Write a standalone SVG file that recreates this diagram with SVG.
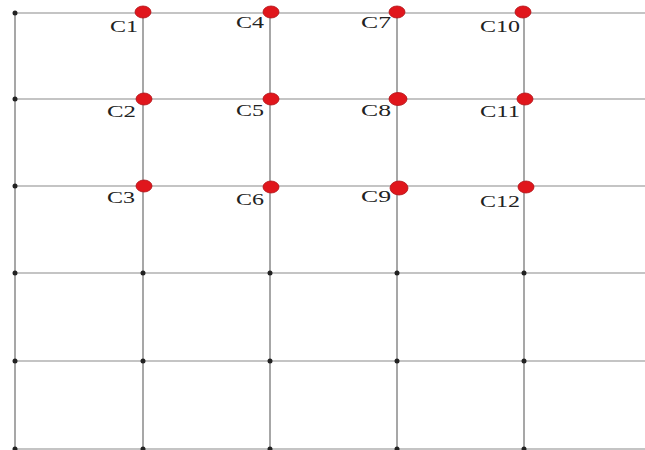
<svg xmlns="http://www.w3.org/2000/svg" width="645" height="450" viewBox="0 0 645 450">
<style>
.h{stroke:#c4c4c4;stroke-width:2}
.v{stroke:#8a8a8a;stroke-width:1.5}
.b{fill:#222}
.r{fill:#e0161c;stroke:#b01015;stroke-width:0.8}
.t{font-family:"Liberation Serif",serif;font-size:17px;fill:#222}
</style>
<rect width="645" height="450" fill="#fff"/>
<g id="grid">
<line class="h" x1="15" y1="13" x2="645" y2="13"/>
<line class="h" x1="15" y1="99" x2="645" y2="99"/>
<line class="h" x1="15" y1="186" x2="645" y2="186"/>
<line class="h" x1="15" y1="273" x2="645" y2="273"/>
<line class="h" x1="15" y1="361" x2="645" y2="361"/>
<line class="h" x1="15" y1="449" x2="645" y2="449"/>
<line class="v" x1="15" y1="13" x2="15" y2="450"/>
<line class="v" x1="143" y1="13" x2="143" y2="450"/>
<line class="v" x1="270" y1="13" x2="270" y2="450"/>
<line class="v" x1="397" y1="13" x2="397" y2="450"/>
<line class="v" x1="524" y1="13" x2="524" y2="450"/>
</g>
<g id="junctions">
<circle class="b" cx="15" cy="13" r="2.5"/>
<circle class="b" cx="15" cy="99" r="2.5"/>
<circle class="b" cx="15" cy="186" r="2.5"/>
<circle class="b" cx="15" cy="273" r="2.5"/>
<circle class="b" cx="15" cy="361" r="2.5"/>
<circle class="b" cx="15" cy="449" r="2.5"/>
<circle class="b" cx="143" cy="273" r="2.5"/>
<circle class="b" cx="143" cy="361" r="2.5"/>
<circle class="b" cx="143" cy="449" r="2.5"/>
<circle class="b" cx="270" cy="273" r="2.5"/>
<circle class="b" cx="270" cy="361" r="2.5"/>
<circle class="b" cx="270" cy="449" r="2.5"/>
<circle class="b" cx="397" cy="273" r="2.5"/>
<circle class="b" cx="397" cy="361" r="2.5"/>
<circle class="b" cx="397" cy="449" r="2.5"/>
<circle class="b" cx="524" cy="273" r="2.5"/>
<circle class="b" cx="524" cy="361" r="2.5"/>
<circle class="b" cx="524" cy="449" r="2.5"/>
</g>
<g id="C1"><ellipse class="r" cx="143" cy="12" rx="8" ry="6"/><text class="t" x="110" y="32" textLength="28" lengthAdjust="spacingAndGlyphs">C1</text></g>
<g id="C2"><ellipse class="r" cx="144" cy="99" rx="8" ry="6"/><text class="t" x="107" y="117" textLength="29" lengthAdjust="spacingAndGlyphs">C2</text></g>
<g id="C3"><ellipse class="r" cx="144" cy="186" rx="8" ry="6"/><text class="t" x="107" y="203" textLength="28" lengthAdjust="spacingAndGlyphs">C3</text></g>
<g id="C4"><ellipse class="r" cx="271" cy="12" rx="8" ry="6"/><text class="t" x="236" y="28" textLength="28" lengthAdjust="spacingAndGlyphs">C4</text></g>
<g id="C5"><ellipse class="r" cx="271" cy="99" rx="8" ry="6"/><text class="t" x="236" y="116" textLength="28" lengthAdjust="spacingAndGlyphs">C5</text></g>
<g id="C6"><ellipse class="r" cx="271" cy="187" rx="8" ry="6"/><text class="t" x="236" y="205" textLength="28" lengthAdjust="spacingAndGlyphs">C6</text></g>
<g id="C7"><ellipse class="r" cx="397" cy="12" rx="8" ry="6"/><text class="t" x="361" y="28" textLength="30" lengthAdjust="spacingAndGlyphs">C7</text></g>
<g id="C8"><ellipse class="r" cx="398" cy="99" rx="9" ry="6.5"/><text class="t" x="361" y="116" textLength="30" lengthAdjust="spacingAndGlyphs">C8</text></g>
<g id="C9"><ellipse class="r" cx="399" cy="188" rx="9" ry="7"/><text class="t" x="361" y="202" textLength="30" lengthAdjust="spacingAndGlyphs">C9</text></g>
<g id="C10"><ellipse class="r" cx="523" cy="12" rx="8" ry="6"/><text class="t" x="480" y="32" textLength="40" lengthAdjust="spacingAndGlyphs">C10</text></g>
<g id="C11"><ellipse class="r" cx="525" cy="99" rx="8" ry="6"/><text class="t" x="480" y="117" textLength="40" lengthAdjust="spacingAndGlyphs">C11</text></g>
<g id="C12"><ellipse class="r" cx="526" cy="187" rx="8" ry="6"/><text class="t" x="480" y="207" textLength="40" lengthAdjust="spacingAndGlyphs">C12</text></g>
</svg>
